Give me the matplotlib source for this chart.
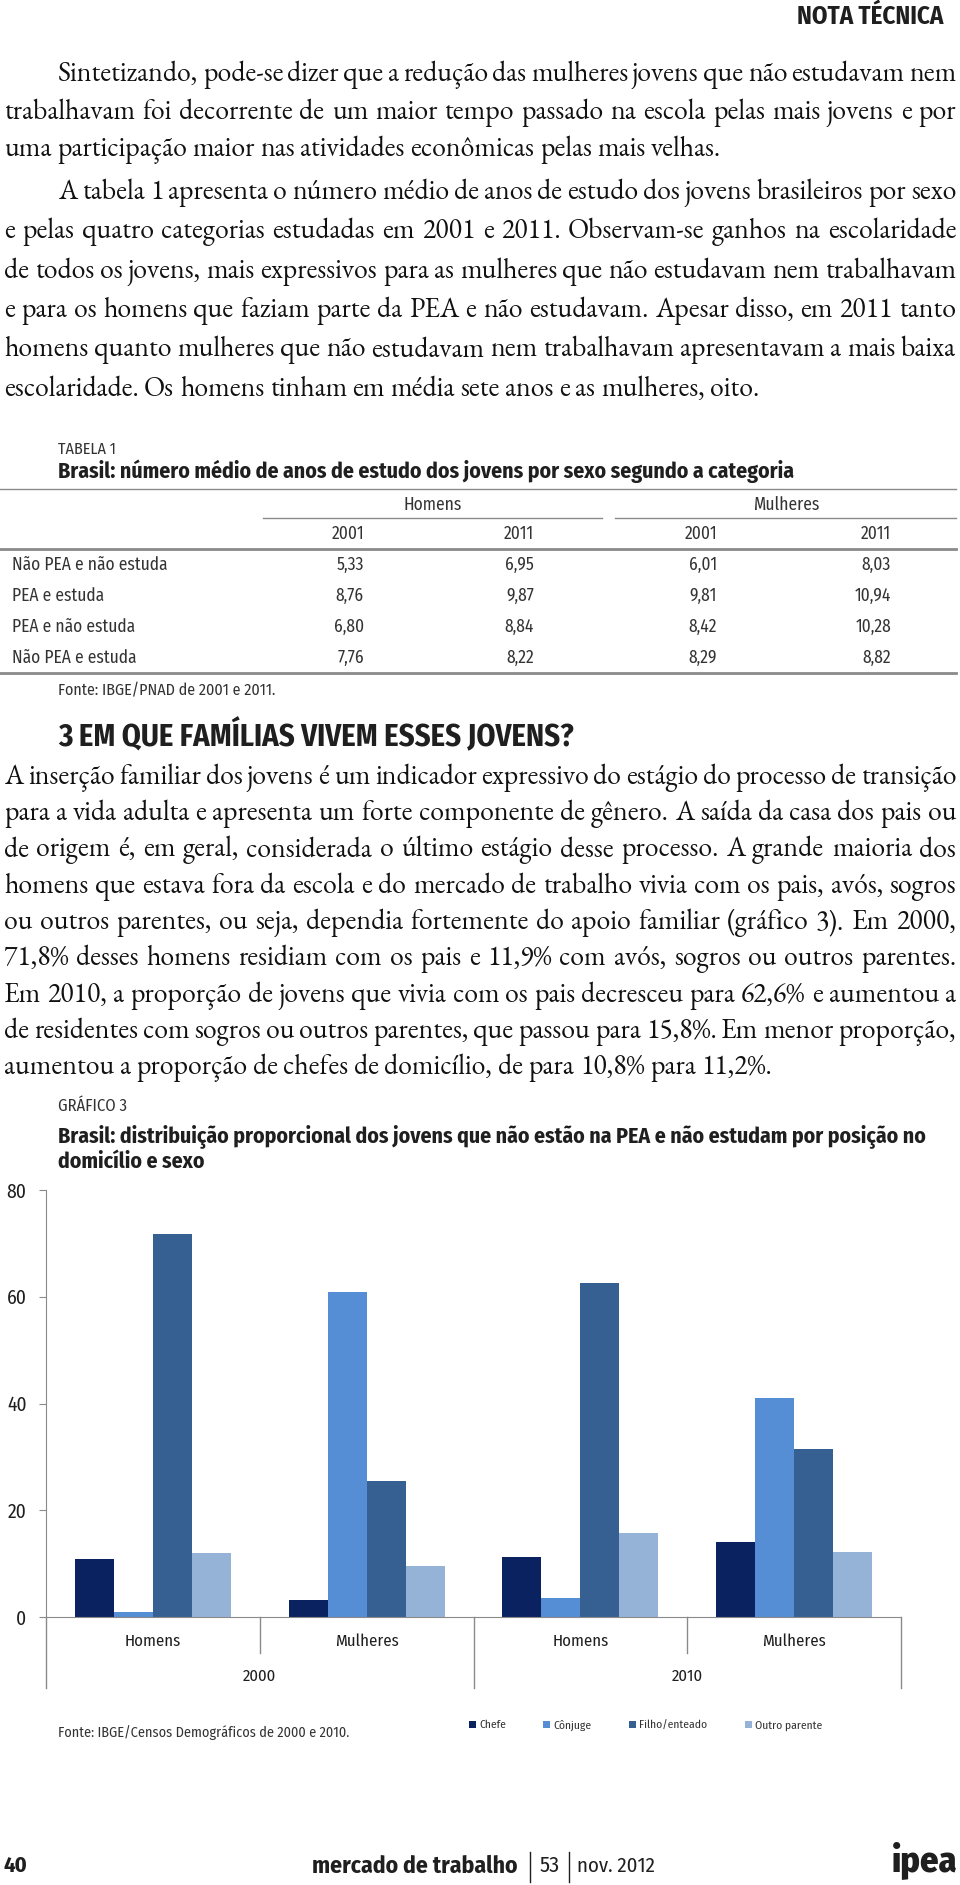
import matplotlib
matplotlib.use('Agg')
import numpy as np
import matplotlib.pyplot as plt
from matplotlib import font_manager
from matplotlib.lines import Line2D

# --- data -------------------------------------------------------------------
para1 = [
    "Sintetizando, pode-se dizer que a redução das mulheres jovens que não estudavam nem",
    "trabalhavam foi decorrente de um maior tempo passado na escola pelas mais jovens e por",
    "uma participação maior nas atividades econômicas pelas mais velhas.",
]
para2 = [
    "A tabela 1 apresenta o número médio de anos de estudo dos jovens brasileiros por sexo",
    "e pelas quatro categorias estudadas em 2001 e 2011. Observam-se ganhos na escolaridade",
    "de todos os jovens, mais expressivos para as mulheres que não estudavam nem trabalhavam",
    "e para os homens que faziam parte da PEA e não estudavam. Apesar disso, em 2011 tanto",
    "homens quanto mulheres que não estudavam nem trabalhavam apresentavam a mais baixa",
    "escolaridade. Os homens tinham em média sete anos e as mulheres, oito.",
]
para3 = [
    "A inserção familiar dos jovens é um indicador expressivo do estágio do processo de transição",
    "para a vida adulta e apresenta um forte componente de gênero. A saída da casa dos pais ou",
    "de origem é, em geral, considerada o último estágio desse processo. A grande maioria dos",
    "homens que estava fora da escola e do mercado de trabalho vivia com os pais, avós, sogros",
    "ou outros parentes, ou seja, dependia fortemente do apoio familiar (gráfico 3). Em 2000,",
    "71,8% desses homens residiam com os pais e 11,9% com avós, sogros ou outros parentes.",
    "Em 2010, a proporção de jovens que vivia com os pais decresceu para 62,6% e aumentou a",
    "de residentes com sogros ou outros parentes, que passou para 15,8%. Em menor proporção,",
    "aumentou a proporção de chefes de domicílio, de para 10,8% para 11,2%.",
]

table_rows = ['Não PEA e não estuda', 'PEA e estuda', 'PEA e não estuda', 'Não PEA e estuda']
table_groups = ['Homens', 'Mulheres']
table_years = ['2001', '2011', '2001', '2011']
homens_2001 = [5.33, 8.76, 6.80, 7.76]
homens_2011 = [6.95, 9.87, 8.84, 8.22]
mulheres_2001 = [6.01, 9.81, 8.42, 8.29]
mulheres_2011 = [8.03, 10.94, 10.28, 8.82]

categories = ['Homens', 'Mulheres', 'Homens', 'Mulheres']
census_years = ['2000', '2010']
series = ['Chefe', 'Cônjuge', 'Filho/enteado', 'Outro parente']
chefe = [10.8, 3.2, 11.2, 14.0]
conjuge = [0.9, 60.9, 3.6, 41.0]
filho = [71.8, 25.5, 62.6, 31.4]
outro = [11.9, 9.6, 15.8, 12.2]

# --- setup ------------------------------------------------------------------
W, H = 960, 1885
installed = {f.name for f in font_manager.fontManager.ttflist}


def first_of(names, default):
    for n in names:
        if n in installed:
            return n
    return default


SANS = first_of(['Fira Sans Condensed', 'PT Sans Narrow', 'Roboto Condensed',
                 'IBM Plex Sans Condensed', 'Asap Condensed', 'Archivo Narrow'], 'Liberation Sans')
SERIF = first_of(['EB Garamond', 'Cormorant Garamond', 'Cardo'], 'Liberation Serif')
INK = '#1f1f1f'
SOFT = '#333333'
GRAY = '#8a8a8a'
plt.rcParams['font.family'] = [SANS, 'DejaVu Sans']

fig = plt.figure(figsize=(W / 100, H / 100), dpi=100)
renderer = fig.canvas.get_renderer()


def fx(x):
    return x / W


def fy(y):
    return 1 - y / H


def text_width(s, size, family=SERIF, weight='normal'):
    t = fig.text(0, 0, s, fontsize=size, family=family, weight=weight)
    w = t.get_window_extent(renderer).width
    t.remove()
    return w


def fit(s, width, family=SANS, weight='normal'):
    return 20 * width / text_width(s, 20, family, weight)


def put(s, x, y, size=12, width=None, ha='left', va='center', family=SANS,
        weight='normal', color=INK):
    if width is not None:
        size = fit(s, width, family, weight)
    return fig.text(fx(x), fy(y), s, fontsize=size, ha=ha, va=va,
                    family=family, weight=weight, color=color)


def hline(x0, x1, y, lw=1.0, color=GRAY):
    fig.add_artist(Line2D([fx(x0), fx(x1)], [fy(y), fy(y)],
                          transform=fig.transFigure, color=color, lw=lw))


def vline(x, y0, y1, lw=1.0, color=INK):
    fig.add_artist(Line2D([fx(x), fx(x)], [fy(y0), fy(y1)],
                          transform=fig.transFigure, color=color, lw=lw))


# body text size: largest size at which every justified line fits
X0, X1, INDENT = 4, 956, 54
ref = 16.0
space_ref = text_width('a a', ref) - text_width('aa', ref)
ratios = []
for lines, ind in [(para1, INDENT), (para2, INDENT), (para3, 0)]:
    for i, line in enumerate(lines[:-1]):
        words = line.split()
        nat = sum(text_width(w, ref) for w in words) + space_ref * 0.8 * (len(words) - 1)
        ratios.append((X1 - X0 - (ind if i == 0 else 0)) / nat)
BODY = ref * min(ratios)


def paragraph(lines, ys, indent=0):
    space = text_width('a a', BODY) - text_width('aa', BODY)
    xh = 0.42 * BODY * 100 / 72 / 2
    for i, (line, yl) in enumerate(zip(lines, ys)):
        words = line.split()
        left = X0 + (indent if i == 0 else 0)
        widths = [text_width(w, BODY) for w in words]
        if i == len(lines) - 1:
            gap = space
        else:
            gap = (X1 - left - sum(widths)) / (len(words) - 1)
        x = left
        for w, wd in zip(words, widths):
            put(w, round(x), yl + xh, size=BODY, family=SERIF, va='baseline', color='#111111')
            x += wd + gap


# --- header -----------------------------------------------------------------
put('NOTA TÉCNICA', 943, 17, width=147, ha='right', weight='bold')

paragraph(para1, [75, 113, 150], indent=INDENT)
paragraph(para2, np.linspace(193, 390, len(para2)), indent=INDENT)

# --- table ------------------------------------------------------------------
put('TABELA 1', 58, 449, width=58, color=SOFT)
put('Brasil: número médio de anos de estudo dos jovens por sexo segundo a categoria',
    58, 471, width=738, weight='bold')
hline(0, 956, 489, lw=1.0)
TS = fit(table_rows[0], 155)
put(table_groups[0], 433, 505, size=TS, color=SOFT, ha='center')
put(table_groups[1], 786, 505, size=TS, color=SOFT, ha='center')
hline(263, 602, 518, lw=1.0)
hline(615, 956, 518, lw=1.0)
col_right = [364, 534, 717, 891]
for xr, yr in zip(col_right, table_years):
    put(yr, xr, 534, size=TS, ha='right', color=SOFT)
hline(0, 956, 549, lw=2.0)
cols = [homens_2001, homens_2011, mulheres_2001, mulheres_2011]
for r, label in enumerate(table_rows):
    yy = 565 + r * 31
    put(label, 12, yy, size=TS, color=SOFT)
    for xr, col in zip(col_right, cols):
        put(f'{col[r]:.2f}'.replace('.', ','), xr, yy, size=TS, ha='right', color=SOFT)
hline(0, 956, 673, lw=2.0)
put('Fonte: IBGE/PNAD de 2001 e 2011.', 58, 691, width=218, color=SOFT)

# --- section 3 --------------------------------------------------------------
put('3 EM QUE FAMÍLIAS VIVEM ESSES JOVENS?', 58, 736, width=515, weight='bold')
paragraph(para3, [778 + 36.3 * k for k in range(len(para3))])

# --- chart ------------------------------------------------------------------
put('GRÁFICO 3', 58, 1106, width=69, color=SOFT)
title1 = 'Brasil: distribuição proporcional dos jovens que não estão na PEA e não estudam por posição no'
TT = fit(title1, 870, weight='bold')
put(title1, 58, 1136, size=TT, weight='bold')
put('domicílio e sexo', 58, 1162, size=TT, weight='bold')

Y0, Y80 = 1617, 1190
ax = fig.add_axes([fx(46), fy(Y0), fx(901) - fx(46), fy(Y80) - fy(Y0)])


def ay(ypx):
    return (Y0 - ypx) / (Y0 - Y80)


colors = ['#0b2260', '#558ed5', '#376092', '#95b3d7']
x = np.arange(len(categories)) + 0.5
bw = 39 / 213.75
bars = []
for k, (name, vals, c) in enumerate(zip(series, [chefe, conjuge, filho, outro], colors)):
    bars.append(ax.bar(x + (k - 1.5) * bw, vals, width=bw, color=c, label=name))

ax.set_xlim(0, len(categories))
ax.set_ylim(0, 80)
ax.set_yticks([0, 20, 40, 60, 80])
ax.set_xticks([])
ax.spines['top'].set_visible(False)
ax.spines['right'].set_visible(False)
ax.spines['left'].set_color(GRAY)
ax.spines['bottom'].set_color(GRAY)
ax.tick_params(axis='y', direction='out', length=5, color=GRAY, labelsize=fit('80', 20),
               labelcolor=INK, pad=9)

# multi-level category axis
CS = fit('Homens', 56)
xt = ax.get_xaxis_transform()
short, long_ = ay(1653), ay(1688)
for xi in range(len(categories) + 1):
    depth = long_ if xi % 2 == 0 else short
    ax.plot([xi, xi], [0, depth], transform=xt, clip_on=False, color=GRAY, lw=1)
for xi, cat in zip(x, categories):
    ax.text(xi, ay(1641), cat, transform=xt, ha='center', va='center', fontsize=CS, color=INK)
for i, yr in enumerate(census_years):
    ax.text(2 * i + 1, ay(1676), yr, transform=xt, ha='center', va='center', fontsize=CS, color=INK)

LS = fit('Filho/enteado', 68)
LPX = LS * 100 / 72
leg = ax.legend(bars, series, loc='center left', bbox_to_anchor=(fx(469), fy(1725)),
                bbox_transform=fig.transFigure, ncol=4, frameon=False, fontsize=LS,
                handlelength=7 / LPX, handleheight=7 / LPX, handletextpad=3.5 / LPX,
                columnspacing=37 / LPX, borderpad=0, borderaxespad=0)
for txt in leg.get_texts():
    txt.set_color(SOFT)

put('Fonte: IBGE/Censos Demográficos de 2000 e 2010.', 58, 1733, width=290, color=SOFT)

# --- footer -----------------------------------------------------------------
put('40', 3, 1866, width=24, weight='bold')
put('mercado de trabalho', 518, 1866, width=206, ha='right', weight='bold')
vline(530, 1852, 1882)
put('53', 540, 1866, width=20)
vline(569, 1852, 1882)
put('nov. 2012', 577, 1866, width=78)
put('ipea', 957, 1860, width=66, ha='right', weight='heavy')

fig.savefig('out.png', dpi=100)
